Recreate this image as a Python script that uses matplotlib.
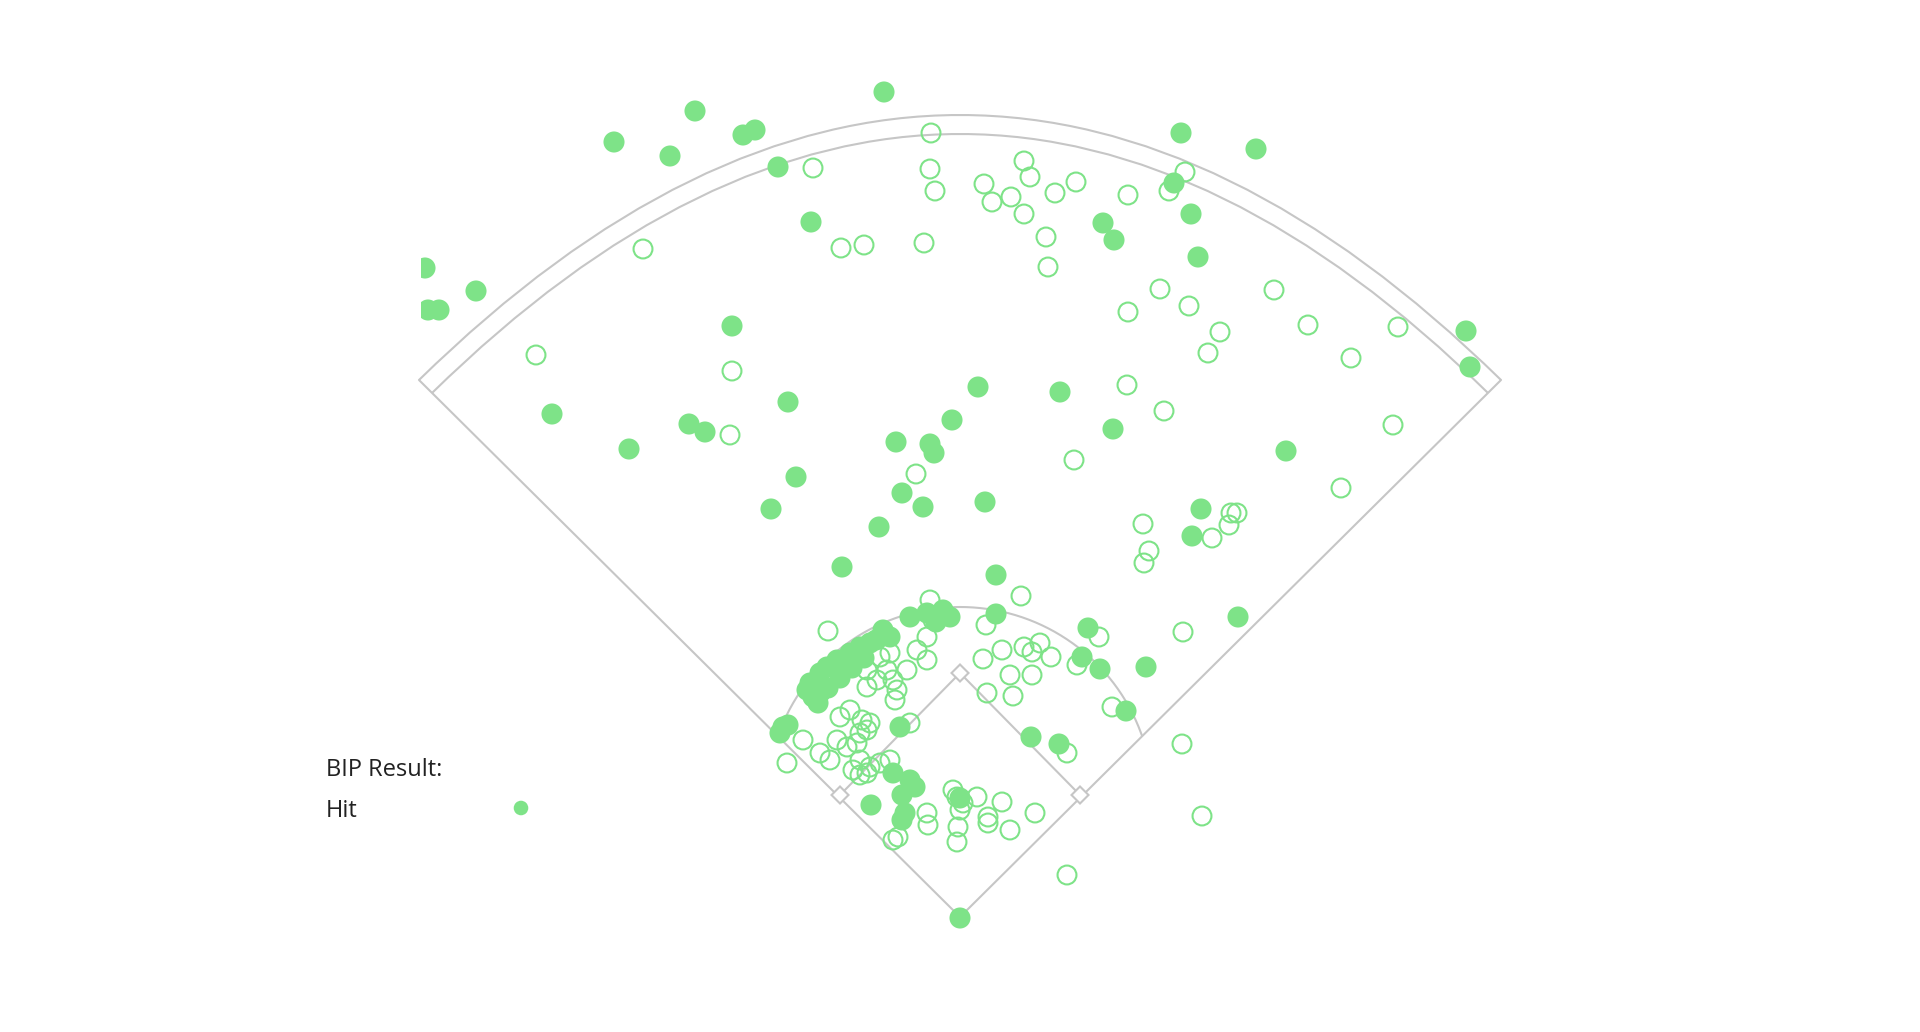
import numpy as np
import matplotlib
matplotlib.use("Agg")
import matplotlib.pyplot as plt
from matplotlib.path import Path
from matplotlib.patches import PathPatch, Polygon, Rectangle

# ---------------- data: hit coordinates (chart pixel space) ----------------
hit_x = [884, 695, 614, 670, 743, 755, 778, 811, 425, 428, 439, 476, 732, 788,
         552, 689, 705, 629, 796, 771, 896, 930, 934, 952, 902, 923, 879, 842,
         1181, 1256, 1174, 1191, 1103, 1114, 1198, 1466, 1470, 978, 1060, 1113,
         985, 1286, 1201, 1192, 996, 996, 1088, 1082, 1100, 1146, 1238, 1126,
         1031, 1059,
         927, 943, 950, 910, 883, 890, 870, 860, 850, 837, 827, 820, 810, 807,
         813, 783, 780, 788, 900, 893, 910, 915, 902, 905, 902, 871, 960, 960,
         840, 828, 852, 864, 818, 876, 936]
hit_y = [92, 111, 142, 156, 135, 130, 167, 222, 268, 310, 310, 291, 326, 402,
         414, 424, 432, 449, 477, 509, 442, 444, 453, 420, 493, 507, 527, 567,
         133, 149, 183, 214, 223, 240, 257, 331, 367, 387, 392, 429,
         502, 451, 509, 536, 575, 614, 628, 657, 669, 667, 617, 711,
         737, 744,
         613, 610, 617, 617, 630, 637, 643, 647, 653, 660, 667, 673, 683, 690,
         697, 727, 733, 725, 727, 773, 780, 787, 795, 813, 820, 805, 918, 798,
         678, 688, 668, 658, 703, 640, 622]

out_x = [931, 813, 930, 935, 643, 841, 864, 924, 536, 732, 730, 916, 828,
         1024, 1030, 984, 1011, 992, 1055, 1076, 1024, 1128, 1185, 1169, 1046,
         1048, 1160, 1128, 1189, 1274, 1220, 1208, 1308, 1398, 1351, 1127, 1164,
         1074, 1393, 1341, 1143, 1149, 1144, 1212, 1229, 1231, 1237, 1021, 986,
         1099, 1183, 1182, 1202, 1067, 1067,
         1002, 983, 1024, 1032, 1040, 1051, 1010, 1032, 987, 1013, 1077, 1112,
         927, 917, 927, 907, 890, 880, 867, 877, 867, 893, 897, 895, 887, 933,
         930, 840, 850, 862, 870, 867, 860, 857, 847, 837, 803, 820, 830, 787,
         860, 870, 880, 867, 853, 910, 820, 890,
         860, 898, 893, 927, 928, 957, 963, 960, 953, 977, 958, 957, 988, 988,
         1002, 1010, 1035]
out_y = [133, 168, 169, 191, 249, 248, 245, 243, 355, 371, 435, 474, 631,
         161, 177, 184, 197, 202, 193, 182, 214, 195, 172, 191, 237,
         267, 289, 312, 306, 290, 332, 353, 325, 327, 358, 385, 411,
         460, 425, 488, 524, 551, 563, 538, 525, 513, 513, 596, 625,
         637, 632, 744, 816, 875, 753,
         650, 659, 647, 652, 643, 657, 675, 675, 693, 696, 665, 707,
         637, 650, 660, 670, 653, 657, 670, 680, 687, 680, 690, 700, 670, 620,
         600, 717, 710, 720, 723, 730, 733, 743, 747, 740, 740, 753, 760, 763,
         760, 767, 763, 773, 770, 723, 693, 760,
         775, 837, 840, 813, 825, 797, 803, 810, 790, 797, 827, 842, 817, 823,
         802, 830, 813]

legend_title = "BIP Result:"
legend_label = "Hit"

GREEN = "#7ee388"
LINE = "#c6c6c6"

# ---------------- figure ----------------
fig = plt.figure(figsize=(19.2, 10.32), dpi=100)
ax = fig.add_axes([0, 0, 1, 1])
ax.set_xlim(0, 1920)
ax.set_ylim(1032, 0)
ax.axis("off")

# field geometry
home = (960, 917)
lpole, rpole = (419, 380), (1501, 380)
lin, rin = (432, 393), (1488, 393)

# foul lines
ax.plot([lpole[0], home[0], rpole[0]], [lpole[1], home[1], rpole[1]],
        color=LINE, lw=1.5, zorder=1, solid_capstyle="round")

# outfield wall (double arc)
for (a, b, cy) in [(lpole, rpole, -150), (lin, rin, -125)]:
    p = Path([a, (960, cy), b], [Path.MOVETO, Path.CURVE3, Path.CURVE3])
    ax.add_patch(PathPatch(p, fill=False, edgecolor=LINE, lw=1.5, zorder=1))

# infield arc
cx, cyy, R = 960, 800, 193
phi0 = np.arcsin(181.8 / R)
phi = np.linspace(-phi0, phi0, 200)
ax.plot(cx + R * np.sin(phi), cyy - R * np.cos(phi), color=LINE, lw=1.5, zorder=1)

# base paths and bases
first, second, third = (1080, 795), (960, 673), (840, 795)
ax.plot([first[0], second[0], third[0]], [first[1], second[1], third[1]],
        color=LINE, lw=1.5, zorder=1)
h = 8.5
for bx, by in [first, second, third]:
    ax.add_patch(Polygon([(bx, by - h), (bx + h, by), (bx, by + h), (bx - h, by)],
                         closed=True, facecolor="white", edgecolor=LINE, lw=1.5, zorder=2))

# points
clip = Rectangle((421, 0), 1080, 1032, transform=ax.transData, visible=False)
ax.add_patch(clip)
so = ax.scatter(out_x, out_y, s=185, facecolors="none", edgecolors=GREEN,
                linewidths=1.5, zorder=3)
sh = ax.scatter(hit_x, hit_y, s=230, color=GREEN, edgecolors="none", zorder=4)
so.set_clip_path(clip)
sh.set_clip_path(clip)

# legend
ax.text(326, 770, legend_title, fontsize=17, family=["Open Sans", "DejaVu Sans"],
        color="#222222", ha="left", va="center")
ax.text(326, 811, legend_label, fontsize=17, family=["Open Sans", "DejaVu Sans"],
        color="#222222", ha="left", va="center")
ax.scatter([521], [808], s=110, color=GREEN, edgecolors="none", zorder=4)

fig.savefig("out.png", dpi=100, facecolor="white")
